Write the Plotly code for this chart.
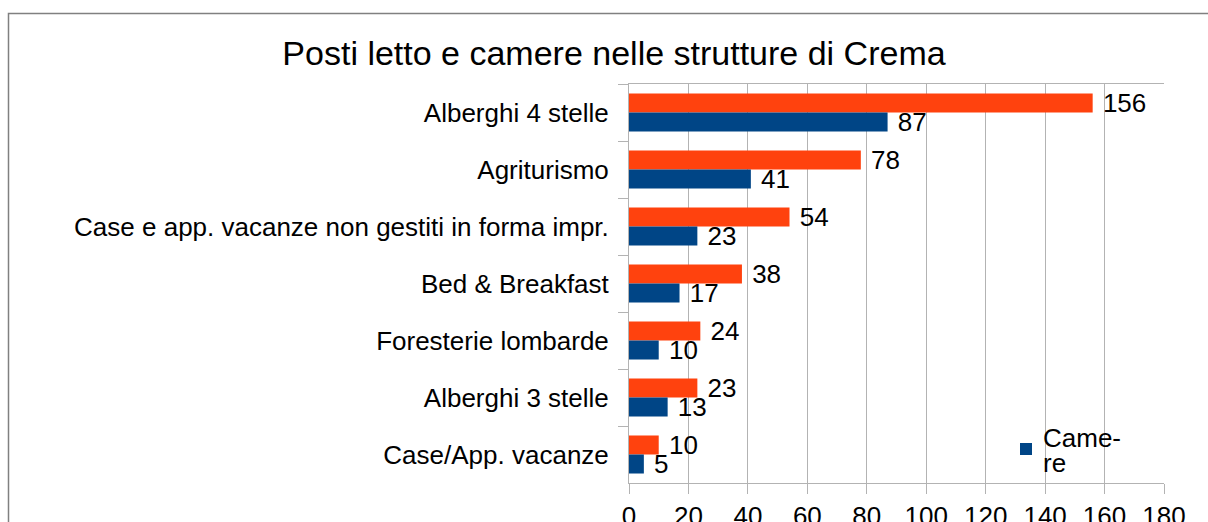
import plotly.graph_objects as go

categorie = [
    "Alberghi 4 stelle",
    "Agriturismo",
    "Case e app. vacanze non gestiti in forma impr.",
    "Bed & Breakfast",
    "Foresterie lombarde",
    "Alberghi 3 stelle",
    "Case/App. vacanze",
]
posti_letto = [156, 78, 54, 38, 24, 23, 10]
camere = [87, 41, 23, 17, 10, 13, 5]
x_ticks = [0, 20, 40, 60, 80, 100, 120, 140, 160, 180]
legenda_righe = ["Came-", "re"]

ARANCIO = "#ff420e"
BLU = "#004586"
GRIGIO = "#b3b3b3"

W, H = 1208, 522
L, T = 629, 84
pw, ph = 535, 399
R, B = W - L - pw, H - T - ph


def px_x(px):
    return (px - L) / pw


def px_y(py):
    return (T + ph - py) / ph


fig = go.Figure()
fig.add_trace(go.Bar(
    y=categorie, x=posti_letto, orientation="h", name="Posti letto",
    marker=dict(color=ARANCIO, line=dict(width=0)),
    texttemplate=" %{x}", textposition="outside", constraintext="none",
    textfont=dict(size=26, color="black"), cliponaxis=False, showlegend=False,
))
fig.add_trace(go.Bar(
    y=categorie, x=camere, orientation="h", name=" ",
    marker=dict(color=BLU, line=dict(width=0)),
    texttemplate=" %{x}", textposition="outside", constraintext="none",
    textfont=dict(size=26, color="black"), cliponaxis=False,
))

# testo della legenda su due righe, con interlinea stretta come nell'originale
for i, riga in enumerate(legenda_righe):
    fig.add_annotation(
        x=px_x(1041), y=px_y(438 + 25 * i), xref="paper", yref="paper",
        text=riga, showarrow=False, xanchor="left", yanchor="middle",
        font=dict(size=26, color="black"),
    )

# cornice esterna del grafico
fig.add_shape(
    type="rect", xref="paper", yref="paper",
    x0=px_x(8.5), x1=px_x(1240), y0=px_y(580), y1=px_y(13.5),
    line=dict(color="#808080", width=1.5), fillcolor="rgba(0,0,0,0)", layer="below",
)

fig.update_layout(
    width=W, height=H,
    margin=dict(l=L, r=R, t=T, b=B, autoexpand=False),
    paper_bgcolor="white", plot_bgcolor="white",
    font=dict(family="Liberation Sans, Arial, sans-serif", size=26, color="black"),
    title=dict(
        text="Posti letto e camere nelle strutture di Crema",
        font=dict(size=34, color="black"),
        x=614 / W, xanchor="center", y=1 - 53 / H, yanchor="middle",
    ),
    barmode="group", bargap=0.333, bargroupgap=0,
    showlegend=True,
    legend=dict(
        x=px_x(1006), y=px_y(449), xanchor="left", yanchor="middle",
        font=dict(size=26), bgcolor="rgba(0,0,0,0)", itemwidth=30,
        tracegroupgap=0,
    ),
    xaxis=dict(
        range=[0, 180], tickvals=x_ticks, ticks="outside", ticklen=10,
        tickcolor=GRIGIO, showgrid=True, gridcolor=GRIGIO, gridwidth=1,
        showline=True, linecolor=GRIGIO, linewidth=1, mirror=True,
        zeroline=False, tickfont=dict(size=26),
    ),
    yaxis=dict(
        autorange="reversed", ticks="outside", ticklen=10, tickson="boundaries",
        tickcolor=GRIGIO, showgrid=False, showline=True, linecolor=GRIGIO,
        linewidth=1, ticklabelstandoff=14, tickfont=dict(size=26),
    ),
)

fig.write_html(
    "out.html",
    config={"displayModeBar": False},
    post_script="document.body.style.margin='0';document.body.style.overflow='hidden';",
)
